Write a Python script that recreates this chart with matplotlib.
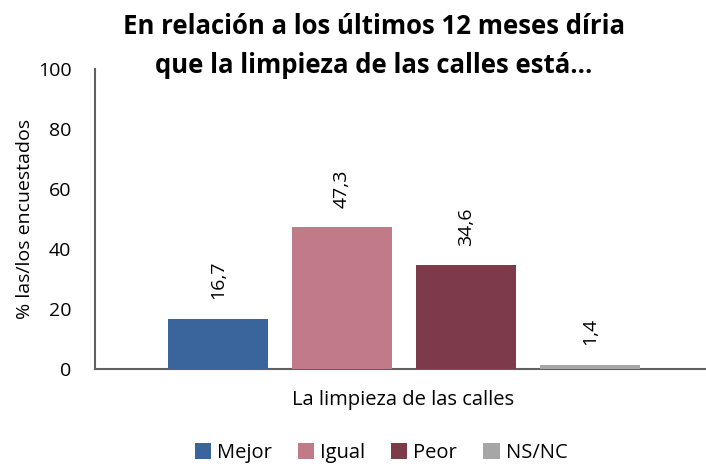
import matplotlib.pyplot as plt
import numpy as np

plt.rcParams['font.family'] = ['Open Sans', 'DejaVu Sans']

# data
categorias = ['Mejor', 'Igual', 'Peor', 'NS/NC']
valores = [16.7, 47.3, 34.6, 1.4]
colores = ['#3A649C', '#C07A88', '#7D3A4A', '#A6A6A6']
etiquetas = ['16,7', '47,3', '34,6', '1,4']

fig = plt.figure(figsize=(7.06, 4.67), dpi=100)
ax = fig.add_axes([95/706, 98/467, 611/706, 300/467])

x = np.arange(len(valores))
barras = ax.bar(x, valores, width=0.8, color=colores, label=categorias, zorder=3)

for xi, v, t in zip(x, valores, etiquetas):
    ax.annotate(t, (xi, v), xytext=(0, 14), textcoords='offset points',
                rotation=90, ha='center', va='bottom', fontsize=14)

ax.set_xlim(-0.992, 3.935)
ax.set_ylim(0, 100)
ax.set_yticks([0, 20, 40, 60, 80, 100])
ax.tick_params(axis='y', labelsize=14, length=0, pad=17)
ax.set_xticks([])
ax.set_ylabel('% las/los encuestados', fontsize=14)
ax.yaxis.set_label_coords(-(95 - 34) / 611, 0.5)

for s in ['top', 'right']:
    ax.spines[s].set_visible(False)
for s in ['left', 'bottom']:
    ax.spines[s].set_color('#606060')
    ax.spines[s].set_linewidth(1.5)

fig.text(403/706, 1 - 400/467, 'La limpieza de las calles', ha='center', va='center', fontsize=14.5)
fig.text(374/706, 1 - 46/467, 'En relación a los últimos 12 meses díria\nque la limpieza de las calles está...',
         ha='center', va='center', fontsize=18.5, fontweight='bold', linespacing=1.55)

fig.legend(handles=barras, labels=categorias, loc='center', bbox_to_anchor=(381/706, 1 - 453/467),
           ncol=4, frameon=False, fontsize=14.5, handlelength=0.8, handleheight=0.8,
           handletextpad=0.3, columnspacing=1.3)

fig.savefig('out.png', dpi=100)
